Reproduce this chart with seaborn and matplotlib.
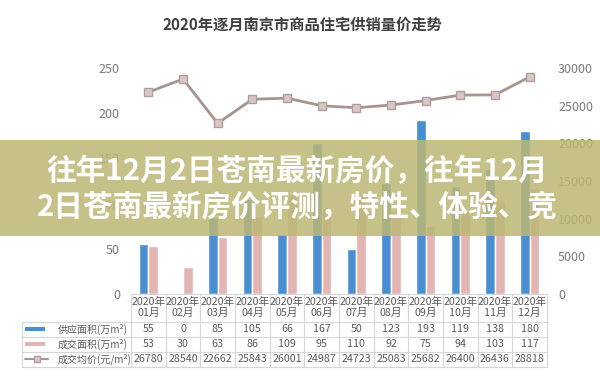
import numpy as np
import pandas as pd
import matplotlib
matplotlib.use("Agg")
import matplotlib.pyplot as plt
import seaborn as sns
from matplotlib import transforms
from matplotlib.lines import Line2D
from matplotlib.patches import Rectangle

# ---------------- data ----------------
months_year = ["2020年"] * 12
months_mon = ["01月", "02月", "03月", "04月", "05月", "06月",
              "07月", "08月", "09月", "10月", "11月", "12月"]
supply = [55, 0, 85, 105, 66, 167, 50, 123, 193, 119, 138, 180]
sales = [53, 30, 63, 86, 109, 95, 110, 92, 75, 94, 103, 117]
price = [26780, 28540, 22662, 25843, 26001, 24987, 24723, 25083, 25682, 26400, 26436, 28818]
row_labels = ["供应面积(万m²)", "成交面积(万m²)", "成交均价(元/m²)"]
left_ticks = [0, 50, 100, 150, 200, 250]
right_ticks = [0, 5000, 10000, 15000, 20000, 25000, 30000]
title = "2020年逐月南京市商品住宅供销量价走势"
banner_lines = ["往年12月2日苍南最新房价，往年12月",
                "2日苍南最新房价评测，特性、体验、竞"]

# ---------------- style ----------------
sns.set_theme(style="white")
plt.rcParams["font.family"] = ["Noto Sans CJK SC", "DejaVu Sans"]

BLUE = "#4a8ed2"
PINK = "#e3b6b4"
LINEC = "#a4958f"
MFACE = "#d9c6c5"
MEDGE = "#b09e9c"
TXT = "#5a5a5a"
GRID = "#d6d6d6"

W, H = 600, 376
fig = plt.figure(figsize=(W / 100, H / 100), dpi=100)
fig.patch.set_facecolor("white")

def fx(px):
    return px / W

def fy(py):
    return 1 - py / H

ax = fig.add_axes([fx(131), fy(294), fx(547) - fx(131), fy(68) - fy(294)])

labels = [y + m for y, m in zip(months_year, months_mon)]
df = pd.DataFrame({
    "month": labels * 2,
    "value": supply + sales,
    "series": [row_labels[0]] * 12 + [row_labels[1]] * 12,
})
sns.barplot(data=df, x="month", y="value", hue="series",
            palette=[BLUE, PINK], width=0.55, saturation=1,
            legend=False, ax=ax)
ax.set_ylim(0, 250)
ax.set_yticks(left_ticks)
ax.set_xlim(-0.5, 11.5)

ax2 = ax.twinx()
sns.pointplot(x=labels, y=price, ax=ax2, color=LINEC, markers="s",
              markersize=6, linewidth=2.0,
              markerfacecolor=MFACE, markeredgecolor=MEDGE, markeredgewidth=1)
ax2.set_ylim(0, 30000)
ax2.set_yticks(right_ticks)
ax2.set_xlim(-0.5, 11.5)

for a in (ax, ax2):
    for s in a.spines.values():
        s.set_visible(False)
    a.set_xlabel("")
    a.set_ylabel("")
    a.set_xticks(range(12))
    a.set_xticklabels([])
    a.tick_params(axis="x", length=0)
    a.tick_params(axis="y", length=0, labelsize=9, labelcolor="#7a7a7a")
    a.grid(False)
ax.tick_params(axis="y", pad=8)
ax2.tick_params(axis="y", pad=8)
ax.patch.set_alpha(0)

# ---------------- title ----------------
fig.text(fx(302), fy(25), title, ha="center", va="center", fontsize=11,
         fontweight="bold", color="#404040")

# ---------------- table ----------------
blend = transforms.blended_transform_factory(ax.transData, fig.transFigure)
fs = 7.7
for i in range(12):
    fig.text(i, fy(302), months_year[i], transform=blend, ha="center", va="center",
             fontsize=fs, color=TXT)
    fig.text(i, fy(313), months_mon[i], transform=blend, ha="center", va="center",
             fontsize=fs, color=TXT)
    fig.text(i, fy(329), str(supply[i]), transform=blend, ha="center", va="center",
             fontsize=fs, color=TXT)
    fig.text(i, fy(344), str(sales[i]), transform=blend, ha="center", va="center",
             fontsize=fs, color=TXT)
    fig.text(i, fy(359), str(price[i]), transform=blend, ha="center", va="center",
             fontsize=fs, color=TXT)

row_y = [329, 344, 359]
for lab, yy in zip(row_labels, row_y):
    fig.text(fx(58), fy(yy), lab, ha="left", va="center", fontsize=7.2, color=TXT)

# legend symbols
fig.patches.append(Rectangle((fx(25), fy(331)), fx(45) - fx(25), 4 / H,
                             transform=fig.transFigure, facecolor=BLUE, edgecolor="none"))
fig.patches.append(Rectangle((fx(25), fy(346)), fx(45) - fx(25), 4 / H,
                             transform=fig.transFigure, facecolor=PINK, edgecolor="none"))
fig.add_artist(Line2D([fx(25), fx(48)], [fy(359), fy(359)], transform=fig.transFigure,
                      color=LINEC, lw=1.5))
fig.add_artist(Line2D([fx(36.5)], [fy(359)], transform=fig.transFigure, marker="s",
                      markersize=5, markerfacecolor=MFACE, markeredgecolor=MEDGE, lw=0))

# grid lines
for yy in [321.5, 336.5, 351.5, 366.5]:
    fig.add_artist(Line2D([fx(22), fx(547)], [fy(yy), fy(yy)], transform=fig.transFigure,
                          color=GRID, lw=0.8))
fig.add_artist(Line2D([fx(131), fx(547)], [fy(294), fy(294)], transform=fig.transFigure,
                      color=GRID, lw=0.8))
fig.add_artist(Line2D([fx(22), fx(22)], [fy(321.5), fy(366.5)], transform=fig.transFigure,
                      color=GRID, lw=0.8))
for k in range(13):
    fig.add_artist(Line2D([k - 0.5, k - 0.5], [fy(294), fy(366.5)], transform=blend,
                          color=GRID, lw=0.8))

# ---------------- banner overlay ----------------
banner = Rectangle((0, fy(236)), 1, (236 - 140) / H, transform=fig.transFigure,
                   facecolor=(187 / 255, 183 / 255, 116 / 255), alpha=0.85,
                   edgecolor="none", zorder=10)
fig.patches.append(banner)
fig.text(fx(46), fy(171), banner_lines[0], ha="left", va="center", fontsize=21.3,
         fontweight="bold", color="white", zorder=11)
fig.text(fx(37), fy(207), banner_lines[1], ha="left", va="center", fontsize=21.3,
         fontweight="bold", color="white", zorder=11)

fig.savefig("out.png", dpi=100)
